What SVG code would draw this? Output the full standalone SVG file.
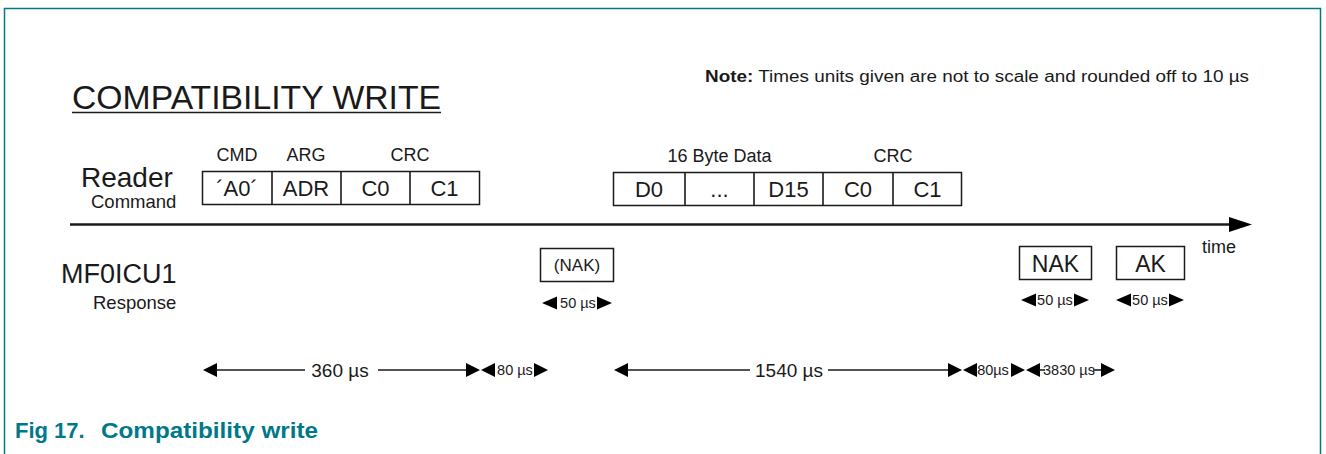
<svg xmlns="http://www.w3.org/2000/svg" width="1326" height="454" viewBox="0 0 1326 454">
<style>
text{font-family:"Liberation Sans",Arial,sans-serif;fill:#1a1a1a}
.box{fill:#fff;stroke:#1a1a1a;stroke-width:1.5}
.lbl{font-size:18px;text-anchor:middle}
.cell{font-size:22px;text-anchor:middle}
.small{font-size:14.5px;text-anchor:middle}
.dim{font-size:19px;text-anchor:middle}
.ln{stroke:#1a1a1a;stroke-width:1.6;fill:none}
.ah{fill:#000}
.cap{font-size:22px;font-weight:bold;fill:#00788a}
</style>
<rect width="1326" height="454" fill="#fff"/>
<path d="M4.5 454 V8.5 H1320.5 V454" fill="none" stroke="#00788a" stroke-width="1.5"/>

<g id="title">
<text x="72" y="109" font-size="33" textLength="369" lengthAdjust="spacingAndGlyphs">COMPATIBILITY WRITE</text>
<line x1="72" y1="112.5" x2="441" y2="112.5" stroke="#1a1a1a" stroke-width="1.5"/>
</g>

<g id="note">
<text x="705" y="82" font-size="16" textLength="544" lengthAdjust="spacingAndGlyphs"><tspan font-weight="bold">Note:</tspan> Times units given are not to scale and rounded off to 10 µs</text>
</g>

<g id="reader-label">
<text x="81" y="187" font-size="28">Reader</text>
<text x="91" y="208" font-size="18.5">Command</text>
</g>

<g id="mf0icu1-label">
<text x="61" y="283" font-size="27">MF0ICU1</text>
<text x="93" y="309" font-size="18.5">Response</text>
</g>

<g id="cmd1">
<text class="lbl" x="237" y="161">CMD</text>
<text class="lbl" x="306" y="161">ARG</text>
<text class="lbl" x="410" y="161">CRC</text>
<rect class="box" x="202.5" y="171.5" width="277" height="33"/>
<line class="ln" x1="272" y1="171.5" x2="272" y2="204.5"/>
<line class="ln" x1="341" y1="171.5" x2="341" y2="204.5"/>
<line class="ln" x1="410" y1="171.5" x2="410" y2="204.5"/>
<text class="cell" x="237" y="196">´A0´</text>
<text class="cell" x="306" y="196">ADR</text>
<text class="cell" x="375.5" y="196">C0</text>
<text class="cell" x="444.5" y="196">C1</text>
</g>

<g id="cmd2">
<text class="lbl" x="719.5" y="162">16 Byte Data</text>
<text class="lbl" x="893" y="162">CRC</text>
<rect class="box" x="613.5" y="172.5" width="348" height="33"/>
<line class="ln" x1="685" y1="172.5" x2="685" y2="205.5"/>
<line class="ln" x1="754" y1="172.5" x2="754" y2="205.5"/>
<line class="ln" x1="823" y1="172.5" x2="823" y2="205.5"/>
<line class="ln" x1="893" y1="172.5" x2="893" y2="205.5"/>
<text class="cell" x="649" y="197">D0</text>
<text class="cell" x="719.5" y="197">...</text>
<text class="cell" x="788.5" y="197">D15</text>
<text class="cell" x="858" y="197">C0</text>
<text class="cell" x="927.5" y="197">C1</text>
</g>

<g id="resp-nak-opt">
<rect class="box" x="540.5" y="248.5" width="73" height="33"/>
<text x="577" y="271" font-size="17" text-anchor="middle">(NAK)</text>
</g>

<g id="resp-nak">
<rect class="box" x="1019.5" y="246.5" width="72" height="33"/>
<text x="1055.5" y="272" font-size="23" text-anchor="middle">NAK</text>
</g>

<g id="resp-ak">
<rect class="box" x="1116.5" y="246.5" width="68" height="33"/>
<text x="1150.5" y="272" font-size="23" text-anchor="middle">AK</text>
</g>

<g id="connectors">
<line x1="70" y1="224.5" x2="1232" y2="224.5" stroke="#1a1a1a" stroke-width="2.5"/>
<polygon class="ah" points="1229,217 1252,224.5 1229,232"/>
<text x="1202" y="253" font-size="18">time</text>

<polygon class="ah" points="542,303 557,296.5 557,309.5"/>
<text class="small" x="578" y="308">50 µs</text>
<polygon class="ah" points="612,303 597,296.5 597,309.5"/>

<polygon class="ah" points="1021,300 1036,293.5 1036,306.5"/>
<text class="small" x="1055" y="305">50 µs</text>
<polygon class="ah" points="1089,300 1074,293.5 1074,306.5"/>

<polygon class="ah" points="1116,300 1131,293.5 1131,306.5"/>
<text class="small" x="1150" y="305">50 µs</text>
<polygon class="ah" points="1184,300 1169,293.5 1169,306.5"/>

<polygon class="ah" points="203,370 217,363 217,377"/>
<line class="ln" x1="216" y1="370" x2="305" y2="370"/>
<text class="dim" x="340" y="376.5">360 µs</text>
<line class="ln" x1="378" y1="370" x2="467" y2="370"/>
<polygon class="ah" points="480,370 466,363 466,377"/>
<polygon class="ah" points="481,370 495,363 495,377"/>
<text class="small" x="515" y="375">80 µs</text>
<polygon class="ah" points="548,370 534,363 534,377"/>

<polygon class="ah" points="614,370 628,363 628,377"/>
<line class="ln" x1="627" y1="370" x2="750" y2="370"/>
<text class="dim" x="789" y="376.5">1540 µs</text>
<line class="ln" x1="828" y1="370" x2="949" y2="370"/>
<polygon class="ah" points="962,370 948,363 948,377"/>
<polygon class="ah" points="963,370 977,363 977,377"/>
<text class="small" x="993" y="375">80µs</text>
<polygon class="ah" points="1025,370 1011,363 1011,377"/>
<polygon class="ah" points="1026,370 1040,363 1040,377"/>
<line class="ln" x1="1039" y1="370" x2="1045" y2="370"/>
<text class="small" x="1069" y="375">3830 µs</text>
<line class="ln" x1="1093" y1="370" x2="1102" y2="370"/>
<polygon class="ah" points="1115,370 1101,363 1101,377"/>
</g>

<g id="caption">
<text class="cap" x="15" y="438">Fig 17.</text>
<text class="cap" x="101" y="438" textLength="217" lengthAdjust="spacingAndGlyphs">Compatibility write</text>
</g>
</svg>
